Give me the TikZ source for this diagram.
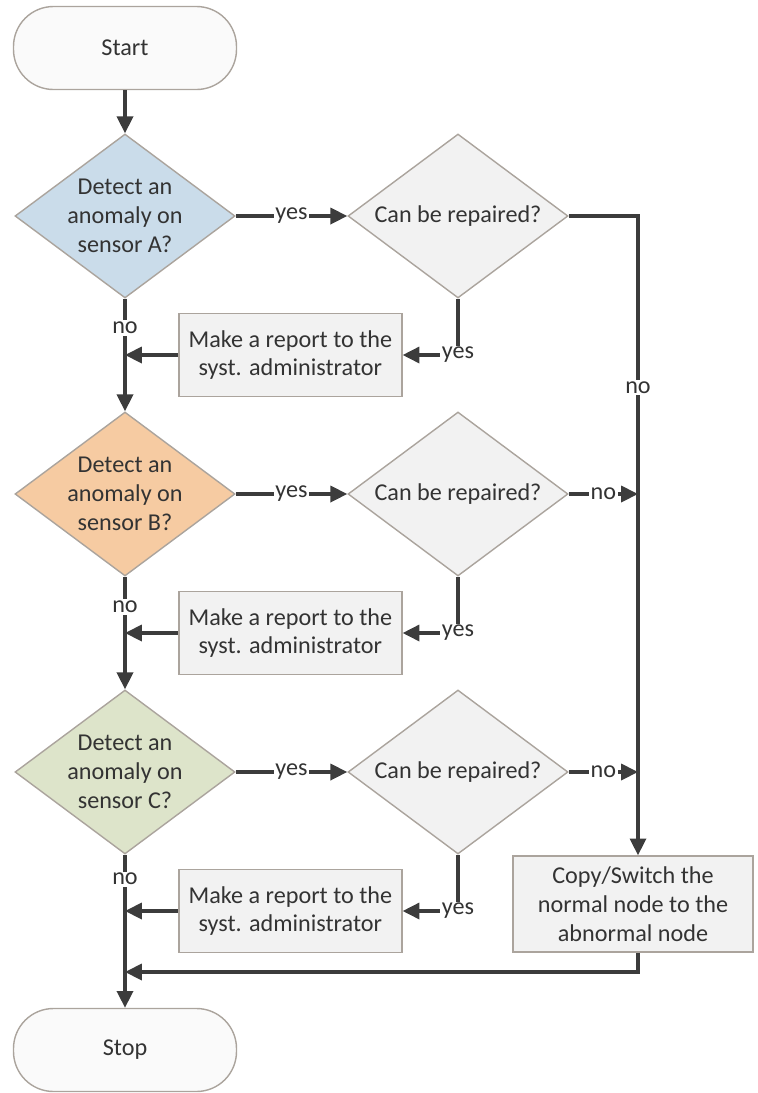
\documentclass[tikz,border=0pt]{standalone}
\usepackage{fontspec}
\setmainfont{Carlito}
\usetikzlibrary{arrows.meta, positioning, shapes.geometric, calc}
\definecolor{cink}{HTML}{333333}
\definecolor{cline}{HTML}{3C3C3C}
\definecolor{cedge}{HTML}{ABA49D}
\definecolor{cblue}{HTML}{CADCEA}
\definecolor{corange}{HTML}{F6CBA2}
\definecolor{cgreen}{HTML}{DDE4CA}
\definecolor{cpale}{HTML}{F2F2F2}
\definecolor{cwhite}{HTML}{FAFAFA}
\tikzset{
  every picture/.style={font=\fontsize{17.2}{20.5}\selectfont, text=cink},
  box/.style={draw=cedge, fill=#1, line width=1pt, align=center, minimum width=5.575cm, minimum height=2.075cm, inner sep=4pt},
  box/.default=cpale,
  decision/.style={diamond, draw=cedge, fill=#1, line width=1pt, align=center, shape aspect=1.35, inner sep=-3pt,
                   minimum width=5.5cm, minimum height=4.1cm},
  decision/.default=cpale,
  arrow/.style={-{Triangle[length=4.2mm, width=4mm]}, draw=cline, line width=2.4pt},
  lbl/.style={fill=white, inner sep=1.2pt, text=cink},
}

\begin{document}
\begin{tikzpicture}[
  terminal/.style={box=cwhite, rounded corners=1cm},
  report/.style={box=cpale},
  action/.style={box=cpale, minimum width=6cm, minimum height=2.4cm}]
  \useasboundingbox (0,0) rectangle (18.925,-27.325);
  \node[terminal] (start) at (3.125,-1.2) {Start};
  % sensor checks
  \node[decision=cblue]   (dA) at (3.125,-5.4)  {Detect an\\anomaly on\\sensor A?};
  \node[decision=corange] (dB) at (3.125,-12.35) {Detect an\\anomaly on\\sensor B?};
  \node[decision=cgreen]  (dC) at (3.125,-19.3) {Detect an\\anomaly on\\sensor C?};
  % repair checks
  \node[decision] (rA) at (11.45,-5.4)  {Can be repaired?};
  \node[decision] (rB) at (11.45,-12.35) {Can be repaired?};
  \node[decision] (rC) at (11.45,-19.3) {Can be repaired?};
  % reports
  \node[report] (repA) at (7.26,-8.875)  {Make a report to the\\syst. administrator};
  \node[report] (repB) at (7.26,-15.825) {Make a report to the\\syst. administrator};
  \node[report] (repC) at (7.26,-22.775) {Make a report to the\\syst. administrator};
  \node[action] (copy) at (15.825,-22.6) {Copy/Switch the\\normal node to the\\abnormal node};
  \node[terminal] (stop) at (3.125,-26.25) {Stop};
  \coordinate (rail) at (15.95,0);
  \coordinate (back) at (3.125,-24.3);
  % main column
  \draw[arrow] (start) -- (dA);
  \draw[arrow] (dA) -- node[lbl, pos=0.26] {no} (dB);
  \draw[arrow] (dB) -- node[lbl, pos=0.27] {no} (dC);
  \draw[arrow] (dC) -- node[lbl, pos=0.16] {no} (stop);
  \foreach \s in {A,B,C} {
    \draw[arrow] (d\s) -- node[lbl] {yes} (r\s);
    \draw[arrow] (r\s.south) |- node[lbl, pos=0.5] {yes} (rep\s.east);
    \draw[arrow] (rep\s.west) -- (rep\s.west -| d\s.south);
  }
  % not repairable
  \draw[arrow] (rA.east) -| node[lbl, pos=0.634] {no} (rail |- copy.north);
  \draw[arrow] (rB.east) -- node[lbl] {no} (rail |- rB.east);
  \draw[arrow] (rC.east) -- node[lbl] {no} (rail |- rC.east);
  \draw[arrow] (rail |- copy.south) |- (back);
\end{tikzpicture}
\end{document}
